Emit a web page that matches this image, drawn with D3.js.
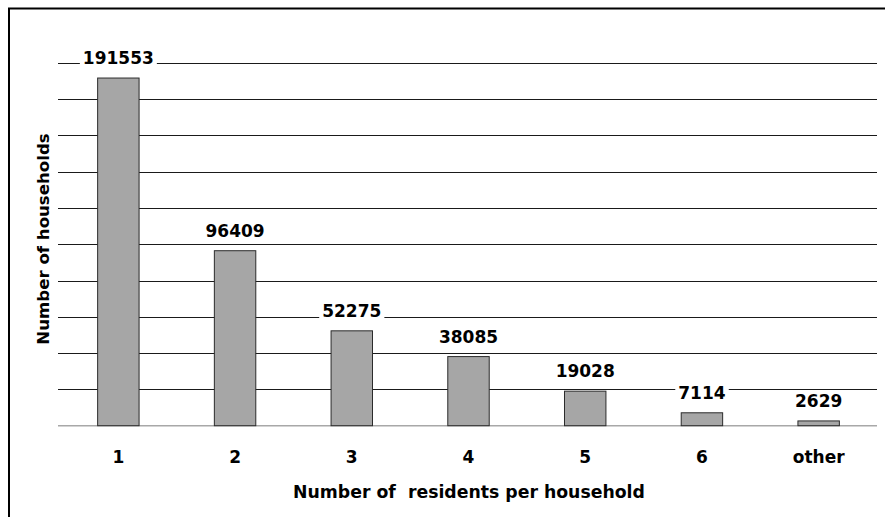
<!DOCTYPE html>
<html>
<head>
<meta charset="utf-8">
<script src="https://cdn.jsdelivr.net/npm/d3@7"></script>
<style>
	body { margin: 0; background: #fff; }
	svg { display: block; font-family: "DejaVu Sans", Verdana, sans-serif; }
</style>
</head>
<body>
<script>
const categories = ["1", "2", "3", "4", "5", "6", "other"];
const households = [191553, 96409, 52275, 38085, 19028, 7114, 2629];
const yMax = 200000;
const gridStep = 20000;

const width = 885, height = 517;
const margin = ({ top: 62.7, right: 8, bottom: 91.3, left: 60 });

const data = categories.map((c, i) => ({ c, v: households[i] }));

const x = d3.scaleBand()
	.domain(categories)
	.range([margin.left, width - margin.right])
	.padding(0);

const barW = x.bandwidth() * 0.355;

const y = d3.scaleLinear()
	.domain([0, yMax])
	.range([height - margin.bottom, margin.top]);

const svg = d3.select("body").append("svg")
	.attr("width", width)
	.attr("height", height);

// outer frame (runs off the right and bottom edge)
svg.append("path")
	.attr("fill", "none")
	.attr("stroke", "#000")
	.attr("stroke-width", 2)
	.attr("d", `M9,${height + 5}V8.5H${width + 5}`);

// gridlines
svg.append("g")
	.selectAll("line")
	.data(d3.range(gridStep, yMax + 1, gridStep))
	.enter()
	.append("line")
	.attr("stroke", "#1a1a1a")
	.attr("stroke-width", 1)
	.attr("x1", margin.left - 2)
	.attr("x2", width - margin.right)
	.attr("y1", d => Math.round(y(d)) + 0.5)
	.attr("y2", d => Math.round(y(d)) + 0.5);

// baseline
svg.append("line")
	.attr("stroke", "#a8a8a8")
	.attr("stroke-width", 1.5)
	.attr("x1", margin.left - 2)
	.attr("x2", width - margin.right)
	.attr("y1", y(0))
	.attr("y2", y(0));

// bars
svg.append("g")
	.selectAll("rect")
	.data(data)
	.enter()
	.append("rect")
	.attr("fill", "#a6a6a6")
	.attr("stroke", "#2b2b2b")
	.attr("stroke-width", 1)
	.attr("x", d => x(d.c) + x.bandwidth() / 2 - barW / 2)
	.attr("width", barW)
	.attr("y", d => y(d.v))
	.attr("height", d => y(0) - y(d.v));

// value labels with white backing that breaks the gridlines
const lab = svg.append("g")
	.selectAll("g")
	.data(data)
	.enter()
	.append("g")
	.attr("transform", d => `translate(${x(d.c) + x.bandwidth() / 2},${y(d.v) - 14})`);

lab.append("text")
	.attr("text-anchor", "middle")
	.attr("font-size", 17)
	.attr("font-weight", "bold")
	.attr("fill", "#000")
	.text(d => d.v);

lab.each(function () {
	const t = d3.select(this).select("text");
	const b = t.node().getBBox();
	d3.select(this).insert("rect", "text")
		.attr("fill", "#fff")
		.attr("x", b.x - 3)
		.attr("y", b.y + 2)
		.attr("width", b.width + 6)
		.attr("height", b.height - 4);
});

// category labels
svg.append("g")
	.selectAll("text")
	.data(categories)
	.enter()
	.append("text")
	.attr("x", d => x(d) + x.bandwidth() / 2)
	.attr("y", 463)
	.attr("text-anchor", "middle")
	.attr("font-size", 17)
	.attr("font-weight", "bold")
	.text(d => d);

// axis titles
svg.append("text")
	.attr("x", 469)
	.attr("y", 498)
	.attr("text-anchor", "middle")
	.attr("font-size", 17.3)
	.attr("font-weight", "bold")
	.attr("xml:space", "preserve")
	.style("white-space", "pre")
	.text("Number of  residents per household");

svg.append("text")
	.attr("transform", "translate(48.5,239) rotate(-90)")
	.attr("text-anchor", "middle")
	.attr("font-size", 16.6)
	.attr("font-weight", "bold")
	.text("Number of households");
</script>
</body>
</html>
